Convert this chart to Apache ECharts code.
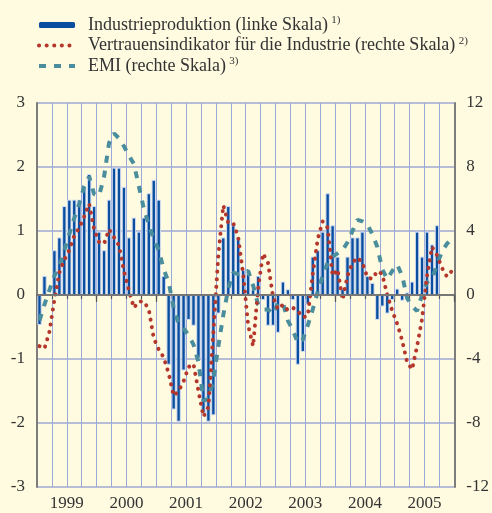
<!DOCTYPE html>
<html>
<head>
<meta charset="utf-8">
<script src="https://cdn.jsdelivr.net/npm/echarts@6/dist/echarts.min.js"></script>
<style>
  html, body { margin: 0; padding: 0; background: #fefbe1; }
  #chart { width: 492px; height: 513px; }
</style>
</head>
<body>
<div id="chart"></div>
<script>
// Jahre auf der x-Achse, Monatswerte Jan 1999 - Dez 2005
var years = ['1999', '2000', '2001', '2002', '2003', '2004', '2005'];
var months = [];
years.forEach(function (y) {
  for (var m = 1; m <= 12; m++) months.push(y + '-' + (m < 10 ? '0' + m : m));
});

// Industrieproduktion (linke Skala)
var industrie = [
  -0.47, 0.30, 0.00, 0.70, 0.90, 1.39, 1.49, 1.49, 1.49, 1.69, 1.89, 1.39,
  0.99, 0.70, 1.49, 1.99, 1.99, 1.69, 0.90, 1.21, 0.99, 1.21, 1.59, 1.80,
  1.49, 0.30, -1.09, -1.79, -1.98, -1.18, -0.39, -0.48, -0.99, -1.85, -1.98, -1.88,
  -0.29, 0.90, 1.39, 1.09, 0.90, 0.39, 0.33, 0.09, 0.30, -0.08, -0.48, -0.48,
  -0.59, 0.21, 0.09, -0.08, -1.09, -0.89, -0.15, 0.60, 0.70, 0.99, 1.59, 1.09,
  0.60, 0.10, 0.60, 0.90, 0.90, 0.99, 0.30, 0.19, -0.39, -0.18, -0.29, -0.08,
  0.10, -0.09, 0.04, 0.21, 0.99, 0.60, 0.99, 0.79, 1.09, null, null, null
];

// Vertrauensindikator fuer die Industrie (rechte Skala)
var vertrauen = [
  -3.2, -3.35, -2.3, -0.3, 1.4, 2.2, 2.8, 3.7, 4.2, 4.9, 5.7, 4.1,
  3.3, 3.2, 4.1, 3.6, 3.1, 1.5, 0.3, -0.8, -0.4, -0.4, -0.9, -2.7,
  -3.4, -3.9, -4.9, -6.3, -6.0, -5.4, -4.5, -4.3, -6.0, -7.6, -7.0, -2.3,
  2.5, 5.6, 4.5, 4.5, 3.6, 1.3, -1.9, -3.2, 0.4, 2.6, 2.0, -0.1,
  -0.9, -0.6, -0.95, -0.8, -1.0, -1.4, -1.3, 1.3, 3.5, 4.6, 4.2, 1.2,
  1.6, -0.3, 1.2, 2.0, 2.35, 2.0, 1.1, 1.0, 1.5, 1.3, 0.0, -1.0,
  -1.8, -2.85, -4.2, -4.65, -3.2, -1.5, 1.2, 3.0, 2.5, 1.7, 1.15, 1.5
];

// EMI (rechte Skala)
var emi = [
  -1.6, -0.6, 0.3, 1.2, 1.8, 2.8, 3.8, 4.8, 5.7, 6.8, 7.4, 6.3,
  6.2, 7.4, 9.5, 10.1, 9.8, 9.3, 8.7, 8.2, 6.8, 5.4, 4.4, 3.5,
  2.8, 1.6, 0.8, -0.8, -1.8, -2.1, -2.5, -3.1, -4.2, -6.6, -6.5, -5.3,
  -3.2, -1.25, 0.4, 1.4, 1.3, 1.4, 1.5, 0.6, -0.6, -0.9, -0.9, -1.2,
  -0.5, -0.5, -1.6, -2.2, -3.0, -2.8, -1.9, -0.9, 0.2, 1.2, 2.0, 2.4,
  2.6, 2.8, 3.3, 4.0, 4.7, 4.6, 4.4, 3.8, 3.0, 1.6, 1.0, 1.5,
  1.9, 1.2, -0.2, -0.7, -1.0, 0.0, 0.8, 1.0, 1.9, 2.7, 3.2, 3.5
];

var seriesNames = [
  'Industrieproduktion (linke Skala)',
  'Vertrauensindikator für die Industrie (rechte Skala)',
  'EMI (rechte Skala)'
];
var notes = ['1)', '2)', '3)'];

var font = 'Liberation Serif';
var txt = '#333333';
var blue = '#0a4f9f';
var red = '#b5372c';
var teal = '#4a8d9c';
var redDots = { color: red, width: 4, type: [0.1, 7.5], cap: 'round' };
var tealDash = { color: teal, width: 4, type: [7, 8] };

var chart = echarts.init(document.getElementById('chart'));
chart.setOption({
  backgroundColor: '#fefbe1',
  animation: false,
  legend: {
    left: 37,
    top: 15,
    padding: 0,
    orient: 'vertical',
    itemWidth: 36,
    itemHeight: 6,
    itemGap: 1.5,
    data: [
      { name: seriesNames[0], itemStyle: { color: blue, borderWidth: 0 } },
      { name: seriesNames[1], itemStyle: { opacity: 0 }, lineStyle: redDots },
      { name: seriesNames[2], itemStyle: { opacity: 0 }, lineStyle: tealDash }
    ],
    formatter: function (name) {
      return '{n|' + name + '} {s|' + notes[seriesNames.indexOf(name)] + '}';
    },
    textStyle: {
      color: txt,
      padding: [0, 0, 0, 8],
      rich: {
        n: { fontFamily: font, fontSize: 18, lineHeight: 20, color: txt },
        s: { fontFamily: font, fontSize: 11, lineHeight: 11, verticalAlign: 'top', color: txt }
      }
    }
  },
  grid: { left: 37, right: 34, top: 103, bottom: 26 },
  xAxis: [{
    type: 'category',
    data: months,
    boundaryGap: true,
    position: 'bottom',
    axisLine: { show: true, lineStyle: { color: '#555555', width: 1.5 } },
    axisTick: {
      show: true,
      length: 4,
      interval: function (i) { return i % 3 === 0; },
      lineStyle: { color: '#555555', width: 1.2 }
    },
    axisLabel: { show: false },
    splitLine: {
      show: true,
      interval: function (i) { return i % 3 === 0; },
      lineStyle: { color: '#9aa8da', width: 1 }
    }
  }, {
    type: 'category',
    data: years,
    boundaryGap: true,
    position: 'bottom',
    axisLine: { show: false },
    axisTick: { show: true, length: 7, lineStyle: { color: '#555555', width: 1.2 } },
    axisLabel: { fontFamily: font, fontSize: 17, color: txt, margin: 8 },
    splitLine: { show: false }
  }],
  yAxis: [{
    type: 'value',
    min: -3,
    max: 3,
    interval: 1,
    position: 'left',
    axisLine: { show: true, lineStyle: { color: '#7d7d7d', width: 2 } },
    axisTick: { show: false },
    axisLabel: { fontFamily: font, fontSize: 17, color: txt, margin: 12 },
    splitLine: { show: true, lineStyle: { color: '#b8bdd6', width: 2 } }
  }, {
    type: 'value',
    min: -12,
    max: 12,
    interval: 4,
    position: 'right',
    axisLine: { show: true, lineStyle: { color: '#7d7d7d', width: 2 } },
    axisTick: { show: false },
    axisLabel: { fontFamily: font, fontSize: 17, color: txt, margin: 12 },
    splitLine: { show: false }
  }],
  series: [{
    name: seriesNames[0],
    type: 'bar',
    xAxisIndex: 0,
    yAxisIndex: 0,
    barWidth: 4.4,
    data: industrie,
    itemStyle: { color: blue, borderColor: '#d3ddf1', borderWidth: 1 },
    markLine: {
      silent: true,
      symbol: 'none',
      label: { show: false },
      lineStyle: { color: '#777777', width: 2, type: 'solid' },
      data: [{ yAxis: 0 }]
    }
  }, {
    name: seriesNames[2],
    type: 'line',
    xAxisIndex: 0,
    yAxisIndex: 1,
    symbol: 'none',
    data: emi,
    itemStyle: { color: teal },
    lineStyle: tealDash
  }, {
    name: seriesNames[1],
    type: 'line',
    xAxisIndex: 0,
    yAxisIndex: 1,
    symbol: 'none',
    data: vertrauen,
    itemStyle: { color: red },
    lineStyle: redDots
  }]
});
</script>
</body>
</html>
